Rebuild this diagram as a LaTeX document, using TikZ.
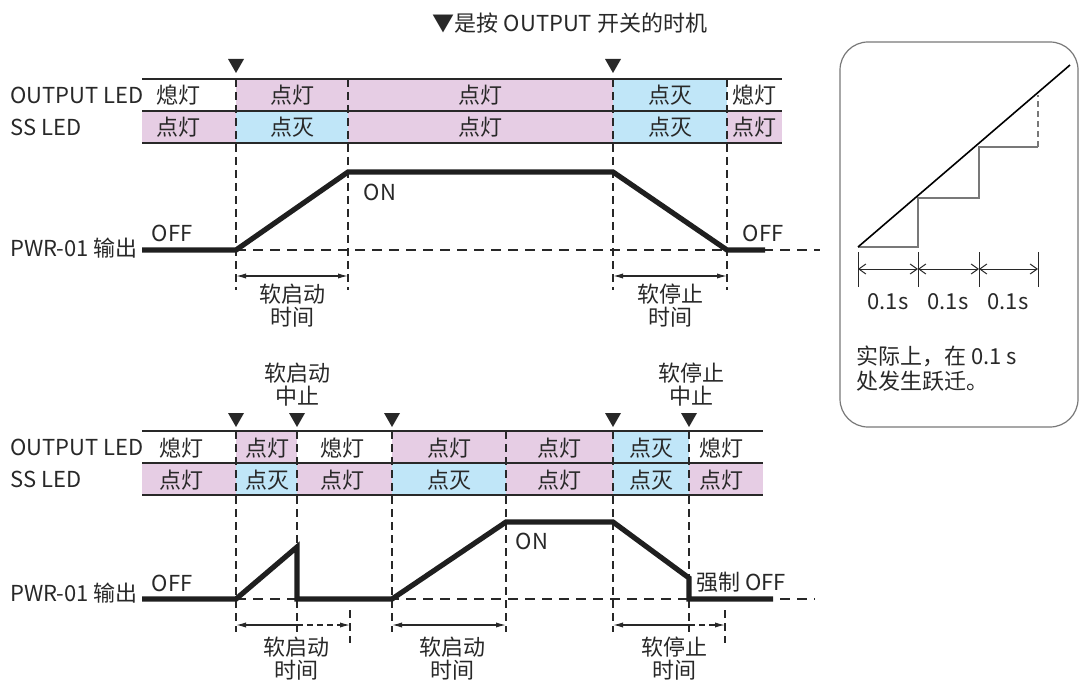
\documentclass[tikz,border=0pt]{standalone}
\usepackage{fontspec}
\setmainfont{Noto Sans CJK SC}
\usetikzlibrary{positioning,arrows.meta}

\definecolor{ledon}{RGB}{230,205,228}
\definecolor{ledss}{RGB}{192,230,248}
\definecolor{ink}{RGB}{40,40,40}
\definecolor{frame}{RGB}{120,120,120}

\tikzset{
    trig/.pic={\fill[ink] (-8,-7) -- (8,-7) -- (0,7) -- cycle;},
    dtip/.tip={Latex[length=5pt, width=2.6pt]},
    btip/.tip={Straight Barb[length=3.5pt, width=5pt]}
}

\begin{document}
\begin{tikzpicture}[
        x=0.5pt, y=-0.5pt,
        every node/.style={font=\fontsize{11}{11.5}\selectfont, text=ink,
            inner sep=1pt, align=center},
        rowline/.style={draw=ink, line width=1pt},
        guide/.style={draw=ink, line width=0.6pt, dash pattern=on 4pt off 2.5pt},
        base/.style={draw=ink, line width=0.8pt, dash pattern=on 5pt off 3.5pt},
        wave/.style={draw=black!88, line width=2.6pt, line join=miter},
        dim/.style={draw=ink, line width=0.6pt}
    ]
        \useasboundingbox (0,0) rectangle (1080,684);

        % title
        \node (title) at (570,23) {▼是按 OUTPUT 开关的时机};

        % ---------- upper chart ----------
        \node (led1) [anchor=west] at (8,95) {OUTPUT LED};
        \node (ss1) [anchor=west] at (8,127) {SS LED};
        \node (pwr1) [anchor=west] at (8,248) {PWR-01 输出};

        \foreach \a/\b/\c/\m/\t [count=\i] in {
                142/236/white/178/熄灯, 236/348/ledon/292/点灯,
                348/613/ledon/480/点灯, 613/727/ledss/670/点灭,
                727/782/white/754/熄灯} {
            \fill[\c] (\a,79) rectangle (\b,111);
            \node (uo\i) at (\m,95) {\t};
        }
        \foreach \a/\b/\c/\m/\t [count=\i] in {
                142/236/ledon/178/点灯, 236/348/ledss/292/点灭,
                348/613/ledon/480/点灯, 613/727/ledss/670/点灭,
                727/782/ledon/754/点灯} {
            \fill[\c] (\a,111) rectangle (\b,143);
            \node (us\i) at (\m,127) {\t};
        }
        \foreach \y in {79,111,143}
            \draw[rowline] (142,\y) -- (782,\y);

        \pic at (236,66) {trig};
        \pic at (613,66) {trig};

        \foreach \x in {236,348,613,727}
            \draw[guide] (\x,79) -- (\x,290);

        \coordinate (a0) at (142,250);
        \coordinate (a1) at (236,250);
        \coordinate (a2) at (348,172);
        \coordinate (a3) at (613,172);
        \coordinate (a4) at (727,250);
        \coordinate (a5) at (765,250);
        \coordinate (aend) at (820,250);
        \draw[base] (a1) -- (aend);
        \draw[wave] (a0) -- (a1) -- (a2) -- (a3) -- (a4) -- (a5);

        \node (off1) at (172,233) {OFF};
        \node (on1) at (380,192) {ON};
        \node (off2) at (763,233) {OFF};

        \coordinate (da1) at (236,276);
        \coordinate (da2) at (348,276);
        \coordinate (da3) at (613,276);
        \coordinate (da4) at (727,276);
        \draw[dim, {dtip}-{dtip}] (da1) -- (da2);
        \draw[dim, {dtip}-{dtip}] (da3) -- (da4);
        \node (ssu) at (292,306) {软启动\\时间};
        \node (sdu) at (670,306) {软停止\\时间};

        % ---------- lower chart ----------
        \node (abort1) at (297,385) {软启动\\中止};
        \node (abort2) at (691,385) {软停止\\中止};

        \node (led2) [anchor=west] at (8,447) {OUTPUT LED};
        \node (ss2) [anchor=west] at (8,479) {SS LED};
        \node (pwr2) [anchor=west] at (8,593) {PWR-01 输出};

        \foreach \a/\b/\c/\m/\t [count=\i] in {
                142/236/white/181/熄灯, 236/297/ledon/267/点灯,
                297/392/white/342/熄灯, 392/506/ledon/449/点灯,
                506/613/ledon/559/点灯, 613/689/ledss/651/点灭,
                689/763/white/721/熄灯} {
            \fill[\c] (\a,431) rectangle (\b,463);
            \node (lo\i) at (\m,448) {\t};
        }
        \foreach \a/\b/\c/\m/\t [count=\i] in {
                142/236/ledon/181/点灯, 236/297/ledss/267/点灭,
                297/392/ledon/342/点灯, 392/506/ledss/449/点灭,
                506/613/ledon/559/点灯, 613/689/ledss/651/点灭,
                689/763/ledon/721/点灯} {
            \fill[\c] (\a,463) rectangle (\b,495);
            \node (ls\i) at (\m,480) {\t};
        }
        \foreach \y in {431,463,495}
            \draw[rowline] (142,\y) -- (763,\y);

        \foreach \x in {236,297,392,613,689}
            \pic at (\x,420) {trig};

        \foreach \x in {236,297,392,506,613,689}
            \draw[guide] (\x,431) -- (\x,632);
        \draw[guide] (350,610) -- (350,643);
        \draw[guide] (725,610) -- (725,643);

        \coordinate (b0) at (142,599);
        \coordinate (b1) at (236,599);
        \coordinate (b2) at (297,547);
        \coordinate (b3) at (297,599);
        \coordinate (b4) at (392,599);
        \coordinate (b5) at (506,522);
        \coordinate (b6) at (613,522);
        \coordinate (b7) at (689,578);
        \coordinate (b8) at (689,599);
        \coordinate (b9) at (773,599);
        \coordinate (bend) at (815,599);
        \draw[base] (b1) -- (bend);
        \draw[wave] (b0) -- (b1) -- (b2) -- (b3) -- (b4) -- (b5) -- (b6) -- (b7) -- (b8) -- (b9);

        \node (off3) at (172,583) {OFF};
        \node (on2) at (532,541) {ON};
        \node (forced) at (741,582) {强制 OFF};

        \coordinate (db1) at (236,625);
        \coordinate (db2) at (297,625);
        \coordinate (db3) at (350,625);
        \coordinate (db4) at (392,625);
        \coordinate (db5) at (506,625);
        \coordinate (db6) at (613,625);
        \coordinate (db7) at (689,625);
        \coordinate (db8) at (725,625);
        \draw[dim, {dtip}-] (db1) -- (db2);
        \draw[dim, dash pattern=on 3pt off 2pt, -{dtip}] (db2) -- (db3);
        \draw[dim, {dtip}-{dtip}] (db4) -- (db5);
        \draw[dim, {dtip}-] (db6) -- (db7);
        \draw[dim, dash pattern=on 3pt off 2pt, -{dtip}] (db7) -- (db8);
        \node (ssl1) at (296,659) {软启动\\时间};
        \node (ssl2) at (452,659) {软启动\\时间};
        \node (sdl) at (674,659) {软停止\\时间};

        % ---------- step detail ----------
        \draw[frame, line width=0.6pt, rounded corners=14pt] (840,42) rectangle (1078,427);

        \coordinate (s0) at (858,247);
        \coordinate (s1) at (918,247);
        \coordinate (s2) at (918,198);
        \coordinate (s3) at (979,198);
        \coordinate (s4) at (979,147);
        \coordinate (s5) at (1038,147);
        \coordinate (s6) at (1038,95);
        \coordinate (stop) at (1070,65);
        \draw[frame, line width=0.6pt] (s0) -- (s1) -- (s2) -- (s3) -- (s4) -- (s5);
        \draw[frame, line width=0.6pt, dash pattern=on 3pt off 2pt] (s5) -- (s6);
        \draw[black, line width=0.8pt] (s0) -- (stop);

        \foreach \x in {858,918,979,1038}
            \draw[ink, line width=0.5pt] (\x,252) -- (\x,287);
        \coordinate (t0) at (858,269);
        \coordinate (t1) at (918,269);
        \coordinate (t2) at (979,269);
        \coordinate (t3) at (1038,269);
        \draw[dim, line width=0.5pt, {btip}-{btip}] (t0) -- (t1);
        \draw[dim, line width=0.5pt, {btip}-{btip}] (t1) -- (t2);
        \draw[dim, line width=0.5pt, {btip}-{btip}] (t2) -- (t3);
        \node (q1) at (888,302) {0.1s};
        \node (q2) at (948,302) {0.1s};
        \node (q3) at (1008,302) {0.1s};

        \node (note) [anchor=north west, align=left, font=\fontsize{11}{12.5}\selectfont]
            at (854,343) {实际上，在 0.1 s\\处发生跃迁。};
    \end{tikzpicture}
\end{document}
